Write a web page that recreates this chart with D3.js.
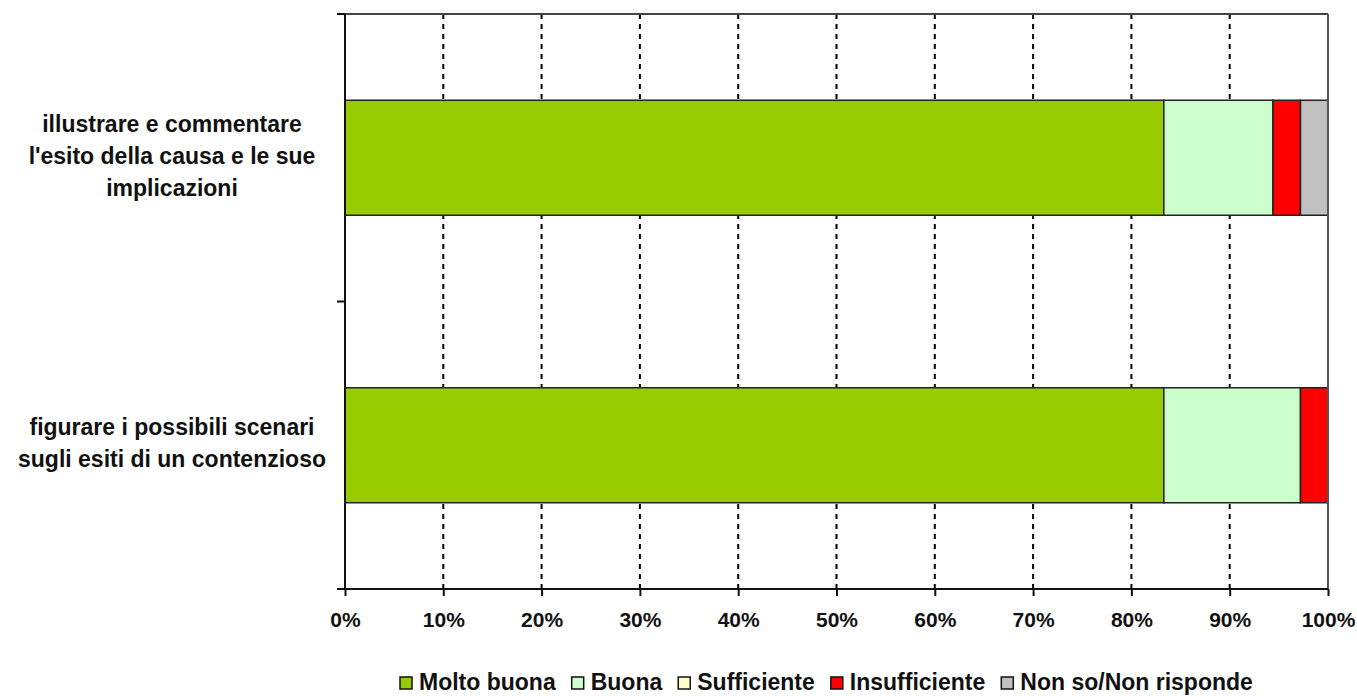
<!DOCTYPE html>
<html><head><meta charset="utf-8">
<script src="https://cdn.jsdelivr.net/npm/d3@7"></script>
<style>body{margin:0;background:#fff}svg{display:block}</style>
</head><body>
<svg id="c" width="1357" height="696"></svg>
<script>
const categories = [
  ["illustrare e commentare", "l'esito della causa e le sue", "implicazioni"],
  ["figurare i possibili scenari", "sugli esiti di un contenzioso"]
];
const seriesNames = ["Molto buona", "Buona", "Sufficiente", "Insufficiente", "Non so/Non risponde"];
const seriesColors = ["#99cc00", "#ccffcc", "#ffffcc", "#ff0000", "#c0c0c0"];
const molto = [83.3, 83.3];
const buona = [11.1, 13.9];
const sufficiente = [0, 0];
const insufficiente = [2.8, 2.8];
const nonso = [2.8, 0];
const tickValues = [0,10,20,30,40,50,60,70,80,90,100];

const series = [molto, buona, sufficiente, insufficiente, nonso];
const rows = categories.map((c,i)=>{const o={key:i}; seriesNames.forEach((s,j)=>o[s]=series[j][i]); return o;});
const stack = d3.stack().keys(seriesNames)(rows);

const svg = d3.select("#c");
const L=345,R=1328,T=14,B=589;
const x = d3.scaleLinear().domain([0,100]).range([L,R]);
const y = d3.scaleBand().domain(d3.range(categories.length)).range([T,B]).paddingInner(0.6).paddingOuter(0.3);
const font = "'Liberation Sans', Arial, sans-serif";

// gridlines
svg.append("g").selectAll("line").data(tickValues.filter(v=>v>0&&v<100)).join("line")
  .attr("x1",d=>x(d)).attr("x2",d=>x(d)).attr("y1",T).attr("y2",B)
  .attr("stroke","#000").attr("stroke-width",2).attr("stroke-dasharray","5,5");

// bars
stack.forEach((s,j)=>{
  svg.append("g").selectAll("rect").data(s.filter(d=>d[1]-d[0]>0)).join("rect")
    .attr("x",d=>x(d[0])).attr("width",d=>x(d[1])-x(d[0]))
    .attr("y",(d,i)=>y(d.data.key)).attr("height",y.bandwidth())
    .attr("fill",seriesColors[j]).attr("stroke","#222").attr("stroke-width",1.5);
});

// frame top & right
svg.append("line").attr("x1",L-8).attr("x2",R).attr("y1",T).attr("y2",T).attr("stroke","#444").attr("stroke-width",2);
svg.append("line").attr("x1",R).attr("x2",R).attr("y1",T).attr("y2",B).attr("stroke","#555").attr("stroke-width",2);

// x axis
const xa = svg.append("g").attr("transform",`translate(0,${B})`)
  .call(d3.axisBottom(x).tickValues(tickValues).tickFormat(d=>d+"%").tickSize(7).tickSizeOuter(0));
xa.select(".domain").attr("stroke","#111").attr("stroke-width",2).attr("d",`M${L-8},0H${R}`);
xa.selectAll(".tick line").attr("stroke","#111").attr("stroke-width",2);
xa.selectAll(".tick text").attr("dy",0).attr("y",38).attr("font-family",font).attr("font-weight","bold").attr("font-size","21px").attr("fill","#111");

// y axis line and ticks
svg.append("line").attr("x1",L).attr("x2",L).attr("y1",T).attr("y2",B).attr("stroke","#111").attr("stroke-width",2);
const yt = [T, T+(B-T)/2, B];
svg.append("g").selectAll("line").data(yt).join("line")
  .attr("x1",L-8).attr("x2",L).attr("y1",d=>d).attr("y2",d=>d).attr("stroke","#111").attr("stroke-width",2);

// category labels
const lh = 32;
categories.forEach((lines,i)=>{
  const cy = y(i)+y.bandwidth()/2;
  const t = svg.append("text").attr("font-family",font).attr("font-weight","bold").attr("font-size","23px").attr("fill","#111").attr("text-anchor","middle");
  lines.forEach((ln,k)=>{
    t.append("tspan").attr("x",172).attr("y",cy + (k-(lines.length-1)/2)*lh + 6).text(ln);
  });
});

// legend
const lg = svg.append("g").attr("font-family",font).attr("font-weight","bold").attr("font-size","23px").attr("fill","#111");
let lx = 400;
const ly = 690;
seriesNames.forEach((s,j)=>{
  lg.append("rect").attr("x",lx).attr("y",ly-13).attr("width",12).attr("height",12).attr("fill",seriesColors[j]).attr("stroke","#111").attr("stroke-width",1.5);
  const t = lg.append("text").attr("x",lx+19).attr("y",ly).text(s);
  const w = t.node().getComputedTextLength();
  lx += 19 + w + 16;
});
</script>
</body></html>
